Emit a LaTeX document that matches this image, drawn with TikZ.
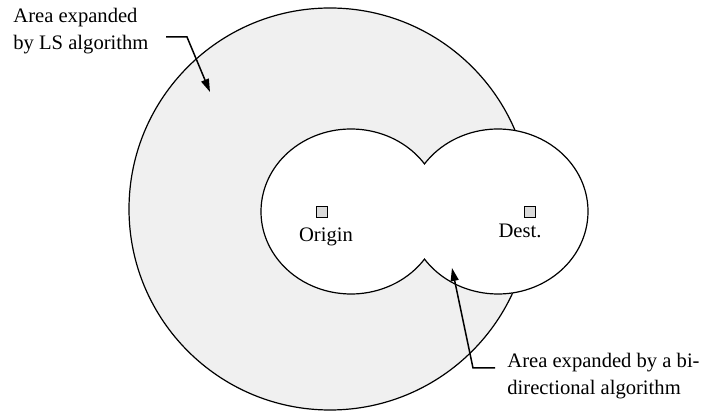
\documentclass[tikz,border=0pt]{standalone}
\usepackage{fontspec}
\setmainfont{Liberation Serif}
\usepackage{tikz}
\usetikzlibrary{arrows.meta,positioning}
\definecolor{lsgray}{RGB}{240,240,240}
\definecolor{markgray}{RGB}{218,218,218}

\begin{document}
\begin{tikzpicture}[x=0.5pt,y=0.5pt,
  outline/.style={draw=black,line width=0.6pt},
  marker/.style={draw=black,fill=markgray,line width=0.5pt,minimum size=5.3pt,inner sep=0pt},
  lbl/.style={font=\fontsize{10.3}{13.5}\selectfont,align=left,inner sep=0pt},
  callout/.style={line width=0.75pt,-{Triangle[length=6.5pt,width=4pt]}}]
  \useasboundingbox (0,0) rectangle (706,412);
  % area searched by LS
  \filldraw[outline,fill=lsgray] (330,203) circle[radius=201];
  % area searched from both ends
  \coordinate (nTop) at (424.5,248.1);
  \filldraw[outline,fill=white] (nTop)
    arc[start angle=35.24,end angle=324.76,x radius=90,y radius=82.5]
    arc[start angle=215.24,end angle=504.76,x radius=90,y radius=82.5] -- cycle;
  \node[marker] (oSq) at (322,200) {};
  \node[marker] (dSq) at (530,200) {};
  \node[lbl,below=4.6pt of oSq,xshift=2pt] (oTxt) {Origin};
  \node[lbl,below=3.1pt of dSq,xshift=-5pt] (dTxt) {Dest.};
  % callouts
  \node[lbl,anchor=north west] (lsLbl) at (13,404) {Area expanded\\by LS algorithm};
  \coordinate (lsStart) at (166,375);
  \coordinate (lsBend) at (187,375);
  \coordinate (lsTip) at (210,320);
  \draw[callout] (lsStart) -- (lsBend) -- (lsTip);
  \node[lbl,anchor=north west] (biLbl) at (507,59) {Area expanded by a bi-\\directional algorithm};
  \coordinate (biStart) at (495,44);
  \coordinate (biBend) at (473,44);
  \coordinate (biTip) at (452,144);
  \draw[callout] (biStart) -- (biBend) -- (biTip);
\end{tikzpicture}
\end{document}
